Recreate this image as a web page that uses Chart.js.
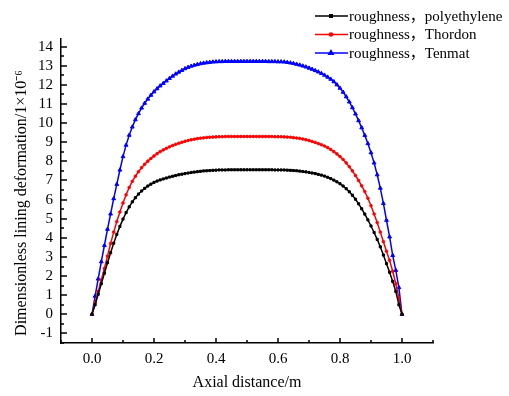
<!DOCTYPE html>
<html>
<head>
<meta charset="utf-8">
<script src="https://cdn.jsdelivr.net/npm/chart.js@4.4.1/dist/chart.umd.min.js"></script>
<style>
  html, body { margin: 0; padding: 0; background: #fff; }
  #wrap { width: 509px; height: 396px; }
</style>
</head>
<body>
<div id="wrap"><canvas id="myChart" width="509" height="396"></canvas></div>
<script>
// * Axial positions 0.00 .. 1.00, step 0.01
const axialDistance = [
  0.00, 0.01, 0.02, 0.03, 0.04, 0.05, 0.06, 0.07, 0.08, 0.09,
  0.10, 0.11, 0.12, 0.13, 0.14, 0.15, 0.16, 0.17, 0.18, 0.19,
  0.20, 0.21, 0.22, 0.23, 0.24, 0.25, 0.26, 0.27, 0.28, 0.29,
  0.30, 0.31, 0.32, 0.33, 0.34, 0.35, 0.36, 0.37, 0.38, 0.39,
  0.40, 0.41, 0.42, 0.43, 0.44, 0.45, 0.46, 0.47, 0.48, 0.49,
  0.50, 0.51, 0.52, 0.53, 0.54, 0.55, 0.56, 0.57, 0.58, 0.59,
  0.60, 0.61, 0.62, 0.63, 0.64, 0.65, 0.66, 0.67, 0.68, 0.69,
  0.70, 0.71, 0.72, 0.73, 0.74, 0.75, 0.76, 0.77, 0.78, 0.79,
  0.80, 0.81, 0.82, 0.83, 0.84, 0.85, 0.86, 0.87, 0.88, 0.89,
  0.90, 0.91, 0.92, 0.93, 0.94, 0.95, 0.96, 0.97, 0.98, 0.99,
  1.00
];

const polyethylene = [
  0, 0.5, 1.05, 1.6, 2.15, 2.7, 3.22, 3.72, 4.18, 4.6,
  4.98, 5.32, 5.62, 5.88, 6.1, 6.29, 6.45, 6.59, 6.71, 6.81,
  6.9, 6.97, 7.03, 7.08, 7.13, 7.18, 7.22, 7.26, 7.3, 7.33,
  7.36, 7.39, 7.42, 7.44, 7.46, 7.48, 7.5, 7.51, 7.52, 7.53,
  7.54, 7.55, 7.55, 7.55, 7.56, 7.56, 7.56, 7.56, 7.56, 7.56,
  7.56, 7.56, 7.56, 7.56, 7.56, 7.56, 7.56, 7.56, 7.56, 7.55,
  7.55, 7.55, 7.55, 7.54, 7.53, 7.52, 7.51, 7.49, 7.47, 7.45,
  7.42, 7.39, 7.36, 7.32, 7.28, 7.23, 7.17, 7.1, 7.02, 6.93,
  6.83, 6.71, 6.57, 6.41, 6.23, 6.02, 5.78, 5.52, 5.24, 4.94,
  4.62, 4.28, 3.92, 3.53, 3.1, 2.65, 2.2, 1.72, 1.2, 0.5,
  0
];

const thordon = [
  0, 0.6, 1.2, 1.8, 2.4, 3.05, 3.7, 4.3, 4.85, 5.35,
  5.82, 6.25, 6.63, 6.95, 7.22, 7.46, 7.67, 7.85, 8.01, 8.15,
  8.28, 8.4, 8.51, 8.6, 8.68, 8.76, 8.83, 8.89, 8.95, 9.0,
  9.05, 9.09, 9.13, 9.16, 9.19, 9.21, 9.23, 9.25, 9.26, 9.27,
  9.28, 9.29, 9.29, 9.3, 9.3, 9.3, 9.3, 9.3, 9.3, 9.3,
  9.3, 9.3, 9.3, 9.3, 9.3, 9.3, 9.3, 9.3, 9.3, 9.29,
  9.29, 9.29, 9.28, 9.27, 9.26, 9.24, 9.22, 9.2, 9.17, 9.13,
  9.09, 9.04, 8.99, 8.93, 8.87, 8.8, 8.72, 8.62, 8.51, 8.39,
  8.25, 8.1, 7.92, 7.72, 7.5, 7.26, 7.0, 6.72, 6.42, 6.07,
  5.68, 5.25, 4.8, 4.3, 3.8, 3.3, 2.82, 2.25, 1.6, 0.85,
  0
];

const tenmat = [
  0, 0.95, 1.85, 2.75, 3.6, 4.45, 5.25, 6.05, 6.8, 7.55,
  8.25, 8.85, 9.37, 9.8, 10.18, 10.5, 10.79, 11.04, 11.26, 11.46,
  11.64, 11.8, 11.95, 12.08, 12.21, 12.34, 12.46, 12.57, 12.67, 12.76,
  12.85, 12.92, 12.98, 13.03, 13.07, 13.11, 13.14, 13.16, 13.18, 13.2,
  13.21, 13.22, 13.22, 13.23, 13.23, 13.23, 13.23, 13.23, 13.23, 13.23,
  13.23, 13.23, 13.23, 13.23, 13.23, 13.23, 13.23, 13.22, 13.22, 13.22,
  13.21, 13.21, 13.2, 13.18, 13.15, 13.12, 13.08, 13.04, 12.99, 12.94,
  12.88, 12.82, 12.75, 12.68, 12.6, 12.51, 12.41, 12.3, 12.17, 12.01,
  11.83, 11.62, 11.38, 11.11, 10.81, 10.48, 10.13, 9.76, 9.36, 8.93,
  8.45, 7.92, 7.3, 6.6, 5.8, 4.92, 4.05, 3.08, 2.3, 1.4,
  0
];

const seriesNames = ["roughness\uff0cpolyethylene", "roughness\uff0cThordon", "roughness\uff0cTenmat"];
const xTickLabels = [0.0, 0.2, 0.4, 0.6, 0.8, 1.0];
const yTickLabels = [-1, 0, 1, 2, 3, 4, 5, 6, 7, 8, 9, 10, 11, 12, 13, 14];
const yTitle = "Dimensionless lining deformation/1\u00d710\u207b\u2076";

const toPoints = (ys) => ys.map((y, i) => ({ x: axialDistance[i], y: y }));

const FONT = "'Liberation Serif', 'Noto Sans CJK SC', serif";

// * Inward major/minor ticks like the original plot
const inwardTicks = {
    id: "inwardTicks",
    afterDraw(chart) {
        const { ctx, chartArea, scales } = chart;
        ctx.save();
        ctx.strokeStyle = "#000";
        ctx.lineWidth = 1.5;
        ctx.beginPath();
        for (let k = -1; k <= 11; k++) {
            const v = k / 10;
            const px = Math.round(scales.x.getPixelForValue(v));
            const len = k % 2 === 0 ? 5 : 3;
            ctx.moveTo(px, chartArea.bottom);
            ctx.lineTo(px, chartArea.bottom - len);
        }
        for (let k = -3; k <= 28; k++) {
            const v = k / 2;
            const py = Math.round(scales.y.getPixelForValue(v));
            const len = k % 2 === 0 ? 6 : 3;
            ctx.moveTo(chartArea.left, py);
            ctx.lineTo(chartArea.left + len, py);
        }
        ctx.stroke();

        // * Y title sits a bit below the axis centre in the original
        ctx.translate(22, 203);
        ctx.rotate(-Math.PI / 2);
        ctx.fillStyle = "#000";
        ctx.font = "16px " + FONT;
        ctx.textAlign = "center";
        ctx.textBaseline = "middle";
        ctx.fillText(yTitle, 0, 0);
        ctx.restore();
    },
};

// * Legend drawn at the top right, overlapping the plot like the original
const cornerLegend = {
    id: "cornerLegend",
    afterDraw(chart) {
        const { ctx } = chart;
        ctx.save();
        chart.data.datasets.forEach((ds, i) => {
            const y = 16 + i * 18.5;
            ctx.strokeStyle = ds.borderColor;
            ctx.lineWidth = 1.5;
            ctx.beginPath();
            ctx.moveTo(315, y);
            ctx.lineTo(348, y);
            ctx.stroke();
            ctx.fillStyle = ds.borderColor;
            Chart.helpers.drawPoint(ctx, {
                pointStyle: ds.pointStyle,
                radius: ds.pointRadius + 0.3,
                rotation: 0,
                borderWidth: 1,
            }, 331, y);
            ctx.fillStyle = "#000";
            ctx.font = "15px " + FONT;
            ctx.textBaseline = "middle";
            ctx.fillText(ds.label, 349, y + 1);
        });
        ctx.restore();
    },
};

const makeSet = (label, values, color, style, radius) => ({
    label: label,
    data: toPoints(values),
    borderColor: color,
    backgroundColor: color,
    pointBackgroundColor: color,
    pointBorderColor: color,
    pointStyle: style,
    pointRadius: radius,
    pointBorderWidth: 1,
    borderWidth: 1.5,
    tension: 0,
    clip: false,
});

const config = {
    type: "line",
    data: {
        datasets: [
            makeSet(seriesNames[0], polyethylene, "#000000", "rect", 1.5),
            makeSet(seriesNames[1], thordon, "#ff0000", "circle", 1.3),
            makeSet(seriesNames[2], tenmat, "#0000ff", "triangle", 2.2),
        ],
    },
    options: {
        responsive: false,
        animation: false,
        layout: { padding: { left: 0, top: 39, right: 76, bottom: 0 } },
        plugins: {
            legend: false,
            tooltip: { enabled: false },
        },
        scales: {
            x: {
                type: "linear",
                min: -0.1,
                max: 1.1,
                afterBuildTicks: (scale) => {
                    scale.ticks = xTickLabels.map((v) => ({ value: v }));
                },
                afterFit: (scale) => { scale.height = 53; },
                grid: { display: false, drawTicks: false },
                border: { display: true, color: "#000", width: 1.5 },
                ticks: {
                    autoSkip: false,
                    maxRotation: 0,
                    padding: 7,
                    color: "#000",
                    font: { family: FONT, size: 15 },
                    callback: (v) => Number(v).toFixed(1),
                },
                title: {
                    display: true,
                    text: "Axial distance/m",
                    color: "#000",
                    font: { family: FONT, size: 16 },
                    padding: { top: 2, bottom: 4 },
                },
            },
            y: {
                type: "linear",
                min: -1.5,
                max: 14.4,
                afterBuildTicks: (scale) => {
                    scale.ticks = yTickLabels.map((v) => ({ value: v }));
                },
                afterFit: (scale) => { scale.width = 61; },
                grid: { display: false, drawTicks: false },
                border: { display: true, color: "#000", width: 1.5 },
                ticks: {
                    autoSkip: false,
                    padding: 8,
                    color: "#000",
                    font: { family: FONT, size: 15 },
                },
                title: { display: false },
            },
        },
    },
    plugins: [inwardTicks, cornerLegend],
};

const ctx = document.getElementById("myChart").getContext("2d");
const chart = new Chart(ctx, config);
</script>
</body>
</html>
